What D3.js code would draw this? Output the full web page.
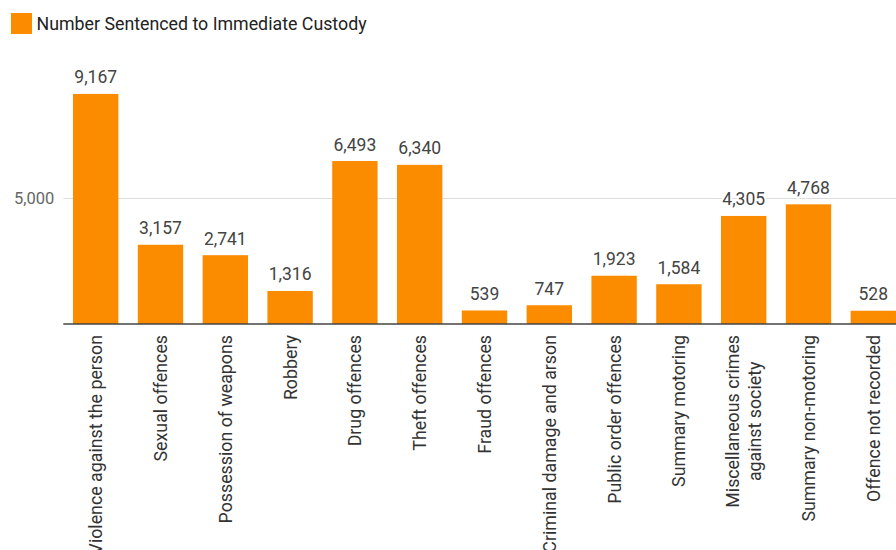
<!DOCTYPE html>
<html>
<head>
<meta charset="utf-8">
<script src="https://cdn.jsdelivr.net/npm/d3@7"></script>
<style>
  html, body { margin: 0; padding: 0; background: #fff; overflow: hidden; }
  svg { display: block; font-family: Roboto, "Noto Sans", sans-serif; }
</style>
</head>
<body>
<svg id="chart" width="896" height="550"></svg>
<script>
// Offence groups and counts sentenced to immediate custody
const categories = [
  "Violence against the person",
  "Sexual offences",
  "Possession of weapons",
  "Robbery",
  "Drug offences",
  "Theft offences",
  "Fraud offences",
  "Criminal damage and arson",
  "Public order offences",
  "Summary motoring",
  "Miscellaneous crimes against society",
  "Summary non-motoring",
  "Offence not recorded"
];
const custodyCounts = [9167, 3157, 2741, 1316, 6493, 6340, 539, 747, 1923, 1584, 4305, 4768, 528];
const yTicks = [5000];
const seriesName = "Number Sentenced to Immediate Custody";

// Long labels are broken onto two lines
const labelLines = {
  "Miscellaneous crimes against society": ["Miscellaneous crimes", "against society"]
};

const W = 896, H = 550;
const barColor = "#fb8c00";
const fmt = d3.format(",");

const svg = d3.select("#chart");

const x = d3.scaleBand()
  .domain(categories)
  .range([63.3, 905.7])
  .paddingInner(0.3)
  .paddingOuter(0.15);

const y = d3.scaleLinear()
  .domain([0, 5000])
  .range([324, 198.5]);

// Legend
const legend = svg.append("g");
legend.append("rect")
  .attr("x", 11).attr("y", 13).attr("width", 21).attr("height", 21)
  .attr("fill", barColor);
legend.append("text")
  .attr("x", 36.5).attr("y", 29.5)
  .attr("fill", "#222")
  .style("font-size", "17.8px")
  .text(seriesName);

// Gridlines and y tick labels
const yAxis = d3.axisLeft(y).tickValues(yTicks).tickFormat(fmt).tickSize(0).tickPadding(9);
const yG = svg.append("g").attr("transform", "translate(63.3,0)").call(yAxis);
yG.select(".domain").remove();
yG.selectAll("text").attr("fill", "#666").style("font-size", "16.5px").style("font-family", "Roboto, sans-serif");
svg.append("g").selectAll("line.grid")
  .data(yTicks).join("line")
  .attr("x1", 63.3).attr("x2", W)
  .attr("y1", d => y(d)).attr("y2", d => y(d))
  .attr("stroke", "#ddd").attr("stroke-width", 1);

// Bars
svg.append("g").selectAll("rect")
  .data(custodyCounts).join("rect")
  .attr("x", (d, i) => x(categories[i]))
  .attr("width", x.bandwidth())
  .attr("y", d => y(d))
  .attr("height", d => y(0) - y(d))
  .attr("fill", barColor);

// Value labels with white halo
svg.append("g").selectAll("text")
  .data(custodyCounts).join("text")
  .attr("x", (d, i) => x(categories[i]) + x.bandwidth() / 2)
  .attr("y", d => y(d) - 10.5)
  .attr("text-anchor", "middle")
  .attr("fill", "#444")
  .attr("stroke", "#fff").attr("stroke-width", 4).attr("paint-order", "stroke")
  .style("font-size", "17.5px")
  .text(d => fmt(d));

// Baseline
svg.append("line")
  .attr("x1", 63.3).attr("x2", W)
  .attr("y1", y(0)).attr("y2", y(0))
  .attr("stroke", "#444").attr("stroke-width", 1.5);

// Rotated category labels
const xLab = svg.append("g").selectAll("g")
  .data(categories).join("g")
  .attr("transform", d => `translate(${x(d) + x.bandwidth() / 2},335) rotate(-90)`);
xLab.each(function (d) {
  const lines = labelLines[d] || [d];
  const t = d3.select(this).append("text")
    .attr("text-anchor", lines.length > 1 ? "middle" : "end")
    .attr("fill", "#333")
    .style("font-size", "17.8px");
  const lh = 21.5;
  lines.forEach((ln, k) => {
    t.append("tspan")
      .attr("x", 0)
      .attr("y", 6.5 + (k - (lines.length - 1) / 2) * lh)
      .text(ln);
  });
  if (lines.length > 1) {
    // right-align the block at the axis, centre each line within it
    const bb = t.node().getBBox();
    t.attr("transform", `translate(${-bb.width / 2},0)`);
  }
});
</script>
</body>
</html>
